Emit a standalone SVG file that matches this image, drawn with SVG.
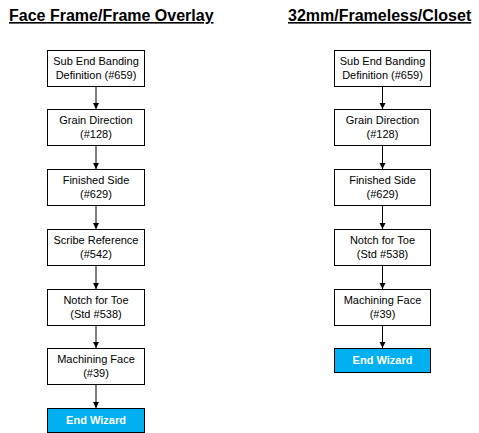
<svg xmlns="http://www.w3.org/2000/svg" width="479" height="433" viewBox="0 0 479 433">
<style>
.t{font-family:"Liberation Sans",Arial,sans-serif;font-size:16px;font-weight:bold;text-decoration:underline;fill:#000}
.b rect{fill:#fff;stroke:#000;stroke-width:1}
.b text{font-family:"Liberation Sans",Arial,sans-serif;font-size:11px;fill:#000;text-anchor:middle}
.e rect{fill:#00B0F0;stroke:#000;stroke-width:1}
.e text{font-family:"Liberation Sans",Arial,sans-serif;font-size:11px;font-weight:bold;fill:#fff;text-anchor:middle}
.c line{stroke:#000;stroke-width:1}
</style>
<defs>
<marker id="ah" markerWidth="7" markerHeight="7" refX="6" refY="3.5" orient="auto" markerUnits="userSpaceOnUse">
<path d="M0,0.5 L6,3.5 L0,6.5 Z" fill="#000"/>
</marker>
</defs>
<rect width="479" height="433" fill="#fff"/>
<text class="t" x="9" y="21">Face Frame/Frame Overlay</text>
<text class="t" x="288" y="21">32mm/Frameless/Closet</text>

<g id="L1" class="b"><rect x="47.5" y="50.5" width="97" height="36"/><text x="96" y="65">Sub End Banding</text><text x="96" y="79">Definition (#659)</text></g>
<g id="L2" class="b"><rect x="47.5" y="109.5" width="97" height="36"/><text x="96" y="124">Grain Direction</text><text x="96" y="138">(#128)</text></g>
<g id="L3" class="b"><rect x="47.5" y="169.5" width="97" height="36"/><text x="96" y="184">Finished Side</text><text x="96" y="198">(#629)</text></g>
<g id="L4" class="b"><rect x="47.5" y="229.5" width="97" height="36"/><text x="96" y="244">Scribe Reference</text><text x="96" y="258">(#542)</text></g>
<g id="L5" class="b"><rect x="47.5" y="289.5" width="97" height="36"/><text x="96" y="304">Notch for Toe</text><text x="96" y="318">(Std #538)</text></g>
<g id="L6" class="b"><rect x="47.5" y="348.5" width="97" height="36"/><text x="96" y="363">Machining Face</text><text x="96" y="377">(#39)</text></g>
<g id="L7" class="e"><rect x="47.5" y="408.5" width="97" height="24"/><text x="96" y="424">End Wizard</text></g>

<g id="R1" class="b"><rect x="334.5" y="50.5" width="96" height="36"/><text x="382.5" y="65">Sub End Banding</text><text x="382.5" y="79">Definition (#659)</text></g>
<g id="R2" class="b"><rect x="334.5" y="109.5" width="96" height="36"/><text x="382.5" y="124">Grain Direction</text><text x="382.5" y="138">(#128)</text></g>
<g id="R3" class="b"><rect x="334.5" y="169.5" width="96" height="36"/><text x="382.5" y="184">Finished Side</text><text x="382.5" y="198">(#629)</text></g>
<g id="R4" class="b"><rect x="334.5" y="229.5" width="96" height="36"/><text x="382.5" y="244">Notch for Toe</text><text x="382.5" y="258">(Std #538)</text></g>
<g id="R5" class="b"><rect x="334.5" y="289.5" width="96" height="36"/><text x="382.5" y="304">Machining Face</text><text x="382.5" y="318">(#39)</text></g>
<g id="R6" class="e"><rect x="334.5" y="348.5" width="96" height="24"/><text x="382.5" y="364">End Wizard</text></g>

<g id="connectors" class="c">
<line x1="96" y1="87" x2="96" y2="109" marker-end="url(#ah)"/>
<line x1="96" y1="146" x2="96" y2="169" marker-end="url(#ah)"/>
<line x1="96" y1="206" x2="96" y2="229" marker-end="url(#ah)"/>
<line x1="96" y1="266" x2="96" y2="289" marker-end="url(#ah)"/>
<line x1="96" y1="326" x2="96" y2="348" marker-end="url(#ah)"/>
<line x1="96" y1="385" x2="96" y2="408" marker-end="url(#ah)"/>
<line x1="382.5" y1="87" x2="382.5" y2="109" marker-end="url(#ah)"/>
<line x1="382.5" y1="146" x2="382.5" y2="169" marker-end="url(#ah)"/>
<line x1="382.5" y1="206" x2="382.5" y2="229" marker-end="url(#ah)"/>
<line x1="382.5" y1="266" x2="382.5" y2="289" marker-end="url(#ah)"/>
<line x1="382.5" y1="326" x2="382.5" y2="348" marker-end="url(#ah)"/>
</g>
</svg>
